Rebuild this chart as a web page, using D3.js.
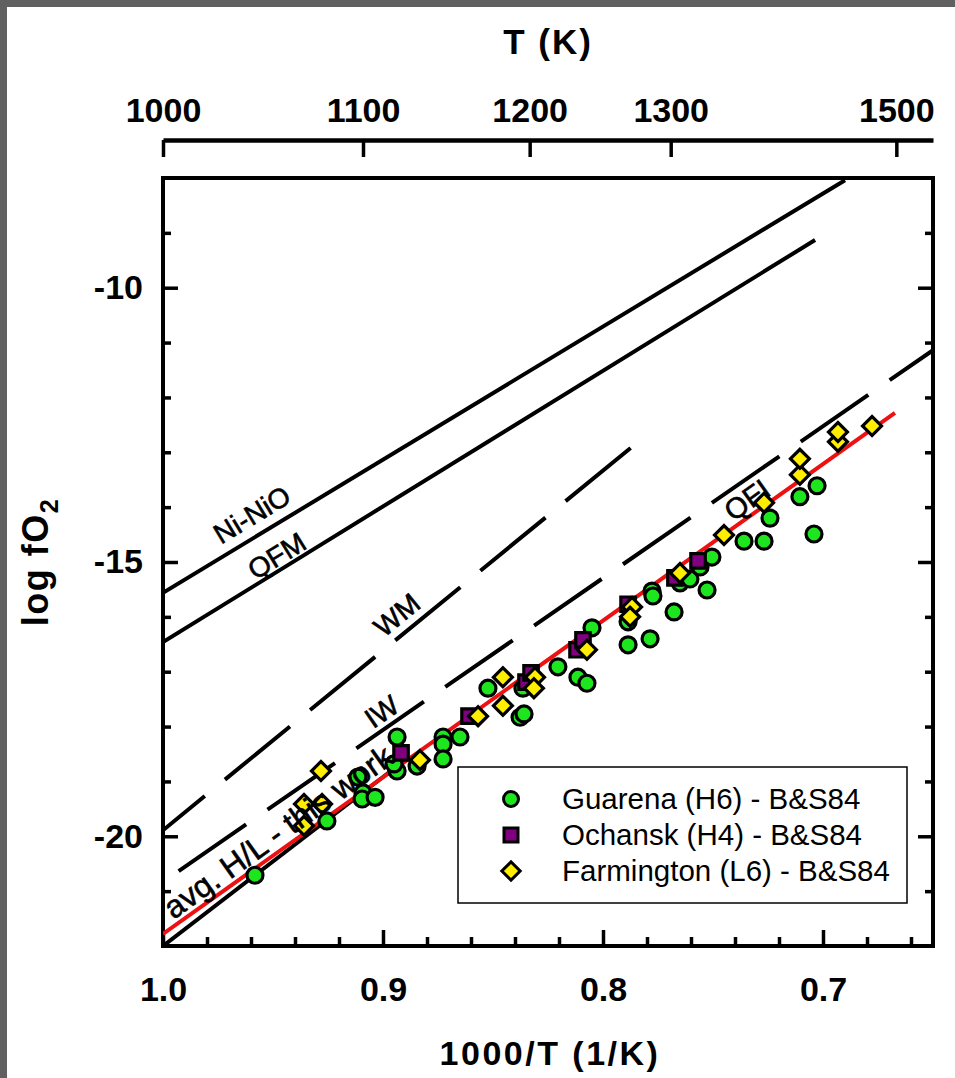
<!DOCTYPE html>
<html>
<head>
<meta charset="utf-8">
<script src="https://cdn.jsdelivr.net/npm/d3@7"></script>
<style>
  body { margin: 0; background: #606060; }
  text { font-family: "Liberation Sans", Arial, Helvetica, sans-serif; }
</style>
</head>
<body>
<svg id="chart"></svg>
<script>

// data points, [1000/T, log fO2]
var guarena = [
  [0.9582, -20.71], [0.9255, -19.72], [0.9114, -18.92], [0.9091, -19.21], [0.9095, -19.32],
  [0.9036, -19.29], [0.8936, -18.19], [0.8936, -18.81], [0.8950, -18.68], [0.8845, -18.72],
  [0.8727, -18.19], [0.8727, -18.32], [0.8727, -18.59], [0.8650, -18.19], [0.8523, -17.30],
  [0.8377, -17.83], [0.8359, -17.77], [0.8364, -17.30], [0.8205, -16.91], [0.8114, -17.10],
  [0.8073, -17.21], [0.8050, -16.20], [0.7886, -16.51], [0.7786, -16.40], [0.7886, -16.09],
  [0.7777, -15.53], [0.7773, -15.62], [0.7677, -15.91], [0.7650, -15.38], [0.7605, -15.31],
  [0.7527, -15.51], [0.7559, -15.09], [0.7505, -14.91], [0.7359, -14.62], [0.7268, -14.62],
  [0.7241, -14.20], [0.7105, -13.81], [0.7027, -13.61], [0.7041, -14.49]
];
var ochansk = [
  [0.8918, -18.48], [0.8609, -17.81], [0.8350, -17.19], [0.8327, -17.02], [0.8118, -16.60],
  [0.8091, -16.42], [0.7886, -15.77], [0.7673, -15.29], [0.7568, -14.98]
];
var farmington = [
  [0.9359, -19.81], [0.9359, -19.41], [0.9277, -19.41], [0.9282, -18.81], [0.8832, -18.61],
  [0.8568, -17.81], [0.8455, -17.10], [0.8455, -17.62], [0.8309, -17.10], [0.8314, -17.30],
  [0.8073, -16.60], [0.7868, -15.82], [0.7877, -16.00], [0.7650, -15.20], [0.7450, -14.51],
  [0.7268, -13.92], [0.7105, -13.41], [0.7105, -13.12], [0.6932, -12.81], [0.6932, -12.63],
  [0.6777, -12.52]
];

// buffer curves, end points
var niNiO = [[1.0, -15.56], [0.690, -8.04]];
var qfm   = [[1.0, -16.46], [0.7036, -9.13]];
var wm    = [[1.0, -19.89], [0.7868, -12.90]];
var iw    = [[1.0, -20.83], [0.65, -11.14]];
var qfi   = [[1.0, -22.0], [0.8945, -18.75]];
var avgHL = [[1.0, -21.78], [0.6673, -12.28]];

var xTicks = [1.0, 0.9, 0.8, 0.7];
var xTickLabels = ["1.0", "0.9", "0.8", "0.7"];
var yTicks = [-10, -15, -20];
var yTickLabels = ["-10", "-15", "-20"];
var tTicks = [1000, 1100, 1200, 1300, 1500];
var legendNames = ["Guarena (H6) - B&S84", "Ochansk (H4) - B&S84", "Farmington (L6) - B&S84"];

var W = 955, H = 1078;
var pL = 163, pR = 933, pT = 178, pB = 946;

var svg = d3.select("#chart").attr("width", W).attr("height", H);
svg.append("rect").attr("width", W).attr("height", H).attr("fill", "#606060");
svg.append("rect").attr("x", 7).attr("y", 7).attr("width", W - 7).attr("height", H - 7).attr("fill", "#fff");

var x = d3.scaleLinear().domain([1.0, 0.65]).range([pL, pR]);
var y = d3.scaleLinear().domain([-22, -8]).range([pB, pT]);

svg.append("clipPath").attr("id", "plotclip")
  .append("rect").attr("x", pL).attr("y", pT).attr("width", pR - pL).attr("height", pB - pT);

// axes
var minorX = d3.range(33, 50).map(function(i){ return +(i * 0.02).toFixed(2); })
  .filter(function(d){ return xTicks.indexOf(d) < 0; });
var minorY = d3.range(-21, -8).filter(function(d){ return yTicks.indexOf(d) < 0; });

function styleAxis(g, fs) {
  g.select(".domain").remove();
  g.selectAll(".tick line").attr("stroke", "#000").attr("stroke-width", 3.5);
  g.selectAll(".tick text").attr("fill", "#000").attr("font-size", fs).attr("font-weight", "bold");
}

svg.append("g").attr("transform", "translate(0," + pB + ")")
  .call(d3.axisBottom(x).tickValues(xTicks).tickFormat(function(d, i){ return xTickLabels[i]; })
    .tickSize(-16).tickPadding(31))
  .call(function(g){ styleAxis(g, 34); });
svg.append("g").attr("transform", "translate(0," + pB + ")")
  .call(d3.axisBottom(x).tickValues(minorX).tickFormat("").tickSize(-9))
  .call(function(g){ styleAxis(g, 0); });

svg.append("g").attr("transform", "translate(" + pL + ",0)")
  .call(d3.axisLeft(y).tickValues(yTicks).tickFormat(function(d, i){ return yTickLabels[i]; })
    .tickSize(-15).tickPadding(20))
  .call(function(g){ styleAxis(g, 34); });
svg.append("g").attr("transform", "translate(" + pL + ",0)")
  .call(d3.axisLeft(y).tickValues(minorY).tickFormat("").tickSize(-8))
  .call(function(g){ styleAxis(g, 0); });

svg.append("g").attr("transform", "translate(" + pR + ",0)")
  .call(d3.axisRight(y).tickValues(yTicks).tickFormat("").tickSize(-15))
  .call(function(g){ styleAxis(g, 0); });
svg.append("g").attr("transform", "translate(" + pR + ",0)")
  .call(d3.axisRight(y).tickValues(minorY).tickFormat("").tickSize(-8))
  .call(function(g){ styleAxis(g, 0); });

// top temperature axis
var topAx = svg.append("g").attr("transform", "translate(0,140)")
  .call(d3.axisTop(x).tickValues(tTicks.map(function(t){ return 1000 / t; }))
    .tickFormat(function(d, i){ return tTicks[i]; })
    .tickSize(-17).tickSizeOuter(0).tickPadding(18));
topAx.select(".domain").attr("stroke", "#000").attr("stroke-width", 4.5);
topAx.selectAll(".tick line").attr("stroke", "#000").attr("stroke-width", 3.5);
topAx.selectAll(".tick text").attr("fill", "#000").attr("font-size", 34).attr("font-weight", "bold");

// frame
svg.append("rect").attr("x", pL).attr("y", pT).attr("width", pR - pL).attr("height", pB - pT)
  .attr("fill", "none").attr("stroke", "#000").attr("stroke-width", 4);

// titles
svg.append("text").attr("x", 548).attr("y", 54).attr("text-anchor", "middle")
  .attr("font-size", 35).attr("font-weight", "bold").attr("letter-spacing", 2).text("T (K)");
svg.append("text").attr("x", 550).attr("y", 1065).attr("text-anchor", "middle")
  .attr("font-size", 34).attr("font-weight", "bold").attr("letter-spacing", 2.5).text("1000/T (1/K)");
var yl = svg.append("text").attr("transform", "translate(48,562) rotate(-90)").attr("text-anchor", "middle")
  .attr("font-size", 36).attr("font-weight", "bold").attr("letter-spacing", 1.5);
yl.append("tspan").text("log fO");
yl.append("tspan").attr("font-size", 25).attr("dy", 10).text("2");

// lines
var line = d3.line().x(function(d){ return x(d[0]); }).y(function(d){ return y(d[1]); });
var plot = svg.append("g").attr("clip-path", "url(#plotclip)");

function drawLine(data, color, dash, offset) {
  plot.append("path").attr("d", line(data)).attr("fill", "none")
    .attr("stroke", color).attr("stroke-width", 4)
    .attr("stroke-dasharray", dash || null).attr("stroke-dashoffset", offset || 0);
}
drawLine(niNiO, "#000");
drawLine(qfm, "#000");
drawLine(wm, "#000", "84,26", 30);
drawLine(iw, "#000", "82,26", 89);
drawLine(qfi, "#000");
drawLine(avgHL, "#ee1111");

// markers
var sq = d3.symbol().type(d3.symbolSquare);
plot.selectAll(".g").data(guarena).enter().append("circle")
  .attr("cx", function(d){ return x(d[0]); }).attr("cy", function(d){ return y(d[1]); })
  .attr("r", 8).attr("fill", "#1ee61e").attr("stroke", "#000").attr("stroke-width", 3.2);
plot.selectAll(".o").data(ochansk).enter().append("path")
  .attr("d", sq.size(210)())
  .attr("transform", function(d){ return "translate(" + x(d[0]) + "," + y(d[1]) + ")"; })
  .attr("fill", "#800080").attr("stroke", "#000").attr("stroke-width", 3.2);
plot.selectAll(".f").data(farmington).enter().append("path")
  .attr("d", sq.size(180)())
  .attr("transform", function(d){ return "translate(" + x(d[0]) + "," + y(d[1]) + ") rotate(45)"; })
  .attr("fill", "#ffee00").attr("stroke", "#000").attr("stroke-width", 3.2);

// line labels, angle taken from the line
function angleOf(l) {
  return Math.atan2(y(l[1][1]) - y(l[0][1]), x(l[1][0]) - x(l[0][0])) * 180 / Math.PI;
}
function label(txt, pos, l, fs) {
  svg.append("text")
    .attr("transform", "translate(" + x(pos[0]) + "," + y(pos[1]) + ") rotate(" + angleOf(l) + ")")
    .attr("text-anchor", "middle").attr("dominant-baseline", "central")
    .attr("font-size", fs).attr("stroke", "#000").attr("stroke-width", 0.6).text(txt);
}
label("Ni-NiO", [0.9595, -14.14], niNiO, 28);
label("QFM", [0.9482, -14.89], qfm, 28);
label("WM", [0.8936, -15.97], wm, 28);
label("IW", [0.9005, -17.73], iw, 28);
label("QFI", [0.7345, -13.87], avgHL, 29);
label("avg. H/L - this work", [0.9477, -19.92], avgHL, 32);

// legend
var lg = svg.append("g");
lg.append("rect").attr("x", 458).attr("y", 767).attr("width", 449).attr("height", 136)
  .attr("fill", "#fff").attr("stroke", "#000").attr("stroke-width", 1.5);
var rows = [799, 835, 871];
lg.append("circle").attr("cx", 511).attr("cy", rows[0]).attr("r", 7.5)
  .attr("fill", "#1ee61e").attr("stroke", "#000").attr("stroke-width", 3);
lg.append("path").attr("d", sq.size(196)()).attr("transform", "translate(511," + rows[1] + ")")
  .attr("fill", "#800080").attr("stroke", "#000").attr("stroke-width", 3);
lg.append("path").attr("d", sq.size(169)()).attr("transform", "translate(511," + rows[2] + ") rotate(45)")
  .attr("fill", "#ffee00").attr("stroke", "#000").attr("stroke-width", 3);
legendNames.forEach(function(n, i){
  lg.append("text").attr("x", 562).attr("y", rows[i] + 10).attr("font-size", 29.5).text(n);
});

</script>
</body>
</html>
